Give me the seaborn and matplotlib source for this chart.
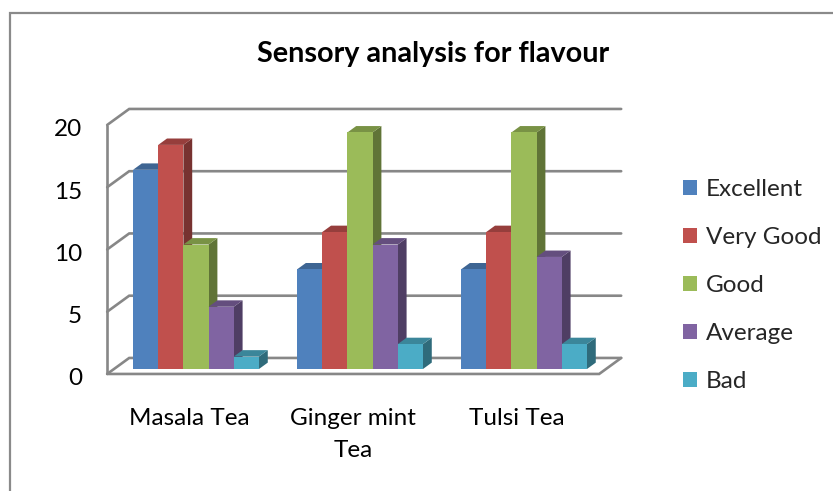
import matplotlib
matplotlib.use("Agg")
import matplotlib.pyplot as plt
import matplotlib.transforms as mtransforms
from matplotlib.patches import Polygon, Patch, Rectangle
from matplotlib.colors import to_rgb
import numpy as np
import pandas as pd
import seaborn as sns

# ---- data -------------------------------------------------------------
teas = ["Masala Tea", "Ginger mint\nTea", "Tulsi Tea"]
ratings = ["Excellent", "Very Good", "Good", "Average", "Bad"]
excellent = [16, 8, 8]
very_good = [18, 11, 11]
good = [10, 19, 19]
average = [5, 10, 9]
bad = [1, 2, 2]
y_ticks = [0, 5, 10, 15, 20]
chart_title = "Sensory analysis for flavour"
palette = ["#4F81BD", "#C0504D", "#9BBB59", "#8064A2", "#4BACC6"]

series = [excellent, very_good, good, average, bad]
df = pd.DataFrame(
    [(t, r, v[i]) for r, v in zip(ratings, series) for i, t in enumerate(teas)],
    columns=["tea", "rating", "score"],
)

# ---- layout -----------------------------------------------------------
W, H = 833, 491
X0_PX, X_UNIT = 196, 164      # pixel column of first category, pixels per category
Y0_PX, Y_UNIT = 369, 12.45    # pixel row of zero on the bar plane, pixels per point
DEPTH_DX, DEPTH_DY = 22, 16   # pixel shift from front to back of the 3-D box
BAR_PLANE = 0.31              # depth of the bar front faces (0 = front, 1 = back)
BAR_DEPTH = 0.40              # depth of each bar
BOX_X = (-0.5, 2.5)
GRID_COLOR = "#878787"
FONT = "Lato"
LABEL_SIZE = 17.5
LINE_PITCH = 32               # pixels between baselines of wrapped category labels

sns.set_style("white")
plt.rcParams["font.family"] = [FONT, "DejaVu Sans"]

fig = plt.figure(figsize=(W / 100, H / 100), dpi=100)
ax = fig.add_axes([0, 0, 1, 1])


def proj(x, y, d):
    """Map a point at depth d of the box onto the 2-D bar plane."""
    s = d - BAR_PLANE
    return x + s * DEPTH_DX / X_UNIT, y + s * DEPTH_DY / Y_UNIT


# walls and gridlines
ymax = y_ticks[-1]
fx, fy = zip(proj(BOX_X[0], 0, 0), proj(BOX_X[0], ymax, 0))
ax.plot(fx, fy, color=GRID_COLOR, lw=1.9, zorder=1, solid_capstyle="butt")
for v in y_ticks:
    pts = [proj(BOX_X[0], v, 0), proj(BOX_X[0], v, 1), proj(BOX_X[1], v, 1)]
    xs, ys = zip(*pts)
    ax.plot(xs, ys, color=GRID_COLOR, lw=1.9, zorder=1, solid_joinstyle="miter")
floor = [proj(BOX_X[0], 0, 0), proj(BOX_X[1], 0, 0), proj(BOX_X[1], 0, 1)]
xs, ys = zip(*floor)
ax.plot(xs, ys, color=GRID_COLOR, lw=1.9, zorder=1, solid_joinstyle="miter")

# bar front faces
sns.barplot(
    data=df, x="tea", y="score", hue="rating", hue_order=ratings,
    palette=palette, saturation=1, width=0.768, gap=0, errorbar=None,
    linewidth=0, legend=False, ax=ax,
)

# top and side faces of each bar
bars = sorted([p for p in ax.patches if p.get_height() > 0], key=lambda p: p.get_x())
ddx = BAR_DEPTH * DEPTH_DX / X_UNIT
ddy = BAR_DEPTH * DEPTH_DY / Y_UNIT
for k, p in enumerate(bars):
    x0, w, h = p.get_x(), p.get_width(), p.get_height()
    base = np.array(to_rgb(p.get_facecolor()))
    top = Polygon([(x0, h), (x0 + w, h), (x0 + w + ddx, h + ddy), (x0 + ddx, h + ddy)],
                  closed=True, facecolor=base * 0.78, edgecolor="none", zorder=2 + 0.1 * k)
    side = Polygon([(x0 + w, 0), (x0 + w, h), (x0 + w + ddx, h + ddy), (x0 + w + ddx, ddy)],
                   closed=True, facecolor=base * 0.62, edgecolor="none", zorder=2 + 0.1 * k)
    ax.add_patch(side)
    ax.add_patch(top)
    p.set_zorder(2.05 + 0.1 * k)

ax.set_xlim(-X0_PX / X_UNIT, (W - X0_PX) / X_UNIT)
ax.set_ylim((Y0_PX - H) / Y_UNIT, Y0_PX / Y_UNIT)
ax.set_axis_off()

# value axis labels
for v in y_ticks:
    tx, ty = proj(BOX_X[0], v, 0)
    trans = mtransforms.offset_copy(ax.transData, fig=fig, x=-25, y=-11.5, units="dots")
    ax.text(tx, ty, str(v), transform=trans, ha="right", va="baseline",
            fontsize=LABEL_SIZE, color="black")

# category labels, one text per line so each baseline sits on the same pitch
for i, t in enumerate(teas):
    tx, ty = proj(i, 0, 0)
    for j, line in enumerate(t.split("\n")):
        trans = mtransforms.offset_copy(ax.transData, fig=fig, x=0,
                                        y=-51 - LINE_PITCH * j, units="dots")
        ax.text(tx, ty, line, transform=trans, ha="center", va="baseline",
                fontsize=LABEL_SIZE, color="black")

# title
fig.text(433 / W, 1 - 62 / H, chart_title, ha="center", va="baseline",
         fontsize=20.7, fontweight="bold", color="black")

# legend
handles = [Patch(facecolor=c, edgecolor="none") for c in palette]
fig.legend(handles, ratings, loc="upper left", bbox_to_anchor=(683 / W, 1 - 179 / H),
           frameon=False, borderpad=0, borderaxespad=0, handlelength=0.58,
           handleheight=0.58, handletextpad=0.35, labelspacing=1.11,
           prop={"family": FONT, "size": LABEL_SIZE})

# chart frame
fig.patches.append(Rectangle((10 / W, -0.1), 1.2, 1 - 13 / H + 0.1, transform=fig.transFigure,
                             fill=False, edgecolor="#8a8a8a", linewidth=1.6))

fig.savefig("out.png", dpi=100)
